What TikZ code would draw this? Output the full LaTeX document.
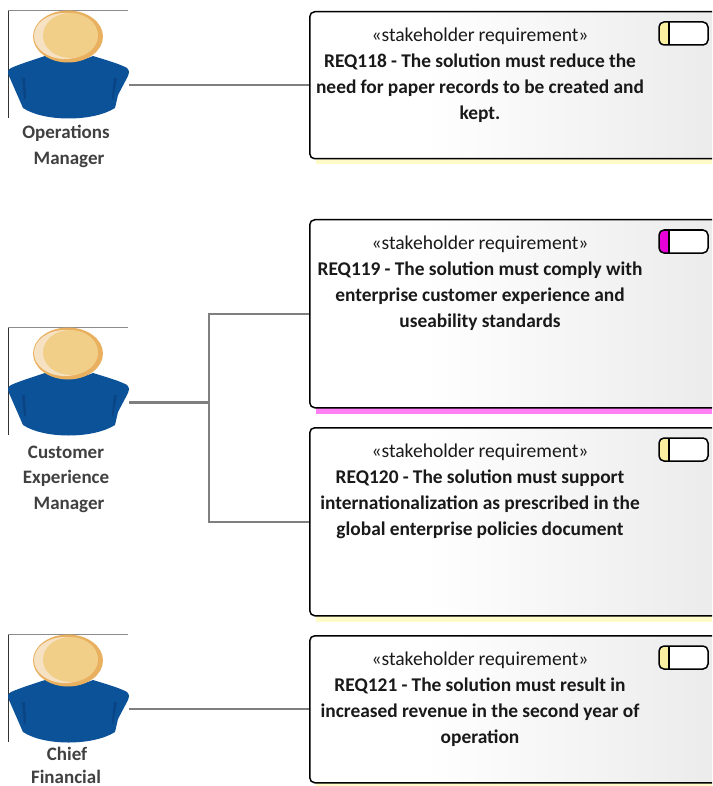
\documentclass[tikz,border=0pt]{standalone}
\usepackage{fontspec}
\setmainfont{Carlito}
\definecolor{reqgray}{HTML}{DADADA}
\pgfdeclarehorizontalshading{reqfill}{100bp}{color(0bp)=(white); color(38bp)=(white); color(100bp)=(reqgray)}
\definecolor{linkgray}{HTML}{7F7F7F}
\definecolor{shadeyellow}{HTML}{FFFBC8}
\definecolor{shademag}{HTML}{FF80F5}
\definecolor{markyellow}{HTML}{FBF0A0}
\definecolor{markmag}{HTML}{E800D8}
\definecolor{labelgray}{HTML}{404040}
\definecolor{skinring}{HTML}{E8B05F}
\definecolor{skinlight}{HTML}{F6E2C2}
\definecolor{skin}{HTML}{F2CF88}
\definecolor{bodyblue}{HTML}{0B5299}
\definecolor{bodydark}{HTML}{0A4484}
\newcommand{\reqb}[1]{{\fontsize{19.4pt}{26pt}\selectfont\bfseries\spaceskip=4.2pt\relax #1}}
\newcommand{\reqs}{{\fontsize{19.6pt}{26pt}\selectfont\spaceskip=3.8pt\relax «stakeholder requirement»}}
\tikzset{
  x=1pt,y=-1pt,
  reqbox/.style={draw=black,line width=1.5pt,rounded corners=5pt,shading=reqfill,minimum width=440pt,anchor=north west,inner sep=0pt},
  reqtext/.style={align=center,font=\fontsize{19.6pt}{26pt}\selectfont,text=black!90,text width=345pt,inner sep=0pt,anchor=north},
  actorbox/.style={minimum width=121pt,minimum height=109pt,inner sep=0pt,anchor=north west},
  actorlabel/.style={align=center,text=labelgray,font=\fontsize{19pt}{26pt}\selectfont\bfseries,inner sep=0pt},
  link/.style={draw=linkgray,line width=1.7pt},
  actorfig/.pic={
    \draw[black!80,line width=1pt] (0,108) -- (0,0);
    \draw[black!45,line width=.8pt] (0,0) -- (120,0);
    \fill[bodyblue] (37,46) .. controls (50,52) and (72,52) .. (85,46)
      .. controls (98,50) and (112,54) .. (119,58)
      .. controls (122,61) and (121,64) .. (120,66)
      -- (110,85) -- (107,98)
      .. controls (85,112) and (36,112) .. (15,98)
      -- (1,66)
      .. controls (-1,62) and (0,60) .. (3,58)
      .. controls (12,54) and (25,50) .. (37,46) -- cycle;
    \fill[bodydark] (14,68) -- (17,68) -- (18,88) -- (16,90) -- cycle;
    \fill[bodydark] (105,90) -- (104,88) -- (106,68) -- (109,68) -- cycle;
    \fill[skinring] (60,26.5) ellipse [x radius=35,y radius=26];
    \fill[skinlight] (57,26) ellipse [x radius=31,y radius=23];
    \fill[skin] (62.5,25.5) ellipse [x radius=27.5,y radius=22.5];
  }
}
\newcommand{\reqmark}[2]{%
  \coordinate (#1m) at ([xshift=350pt,yshift=-11pt]#1.north west);
  \begin{scope}
    \clip[rounded corners=5pt] (#1m) rectangle ++(49,23);
    \fill[white] (#1m) rectangle ++(49,23);
    \fill[#2] (#1m) rectangle ++(10,23);
  \end{scope}
  \draw[line width=1.5pt] ([xshift=10pt]#1m) -- ++(0,23);
  \draw[line width=1.5pt,rounded corners=5pt] (#1m) rectangle ++(49,23);
}
\begin{document}
\begin{tikzpicture}
\useasboundingbox (0,0) rectangle (712,786);
\clip (0,0) rectangle (712,786);
% shadows
\fill[shadeyellow] (316,159) rectangle (712,164);
\fill[shademag] (316,408) rectangle (712,414);
\fill[shadeyellow] (316,616) rectangle (712,622);
\fill[shadeyellow] (316,783) rectangle (712,786);
% requirement boxes
\node[reqbox,minimum height=147pt] (r118) at (309,11) {};
\node[reqbox,minimum height=188pt] (r119) at (309,219) {};
\node[reqbox,minimum height=188pt] (r120) at (309,427) {};
\node[reqbox,minimum height=147pt] (r121) at (309,635) {};
\reqmark{r118}{markyellow}
\reqmark{r119}{markmag}
\reqmark{r120}{markyellow}
\reqmark{r121}{markyellow}
\node[reqtext] (t118) at (480,28) {\reqs\\\reqb{REQ118 - The solution must reduce the}\\\reqb{need for paper records to be created and}\\\reqb{kept.}};
\node[reqtext] (t119) at (480,236) {\reqs\\\reqb{REQ119 - The solution must comply with}\\\reqb{enterprise customer experience and}\\\reqb{useability standards}};
\node[reqtext] (t120) at (480,444) {\reqs\\\reqb{REQ120 - The solution must support}\\\reqb{internationalization as prescribed in the}\\\reqb{global enterprise policies document}};
\node[reqtext] (t121) at (480,652) {\reqs\\\reqb{REQ121 - The solution must result in}\\\reqb{increased revenue in the second year of}\\\reqb{operation}};
% actors
\node[actorbox] (a1) at (8,10) {};
\node[actorbox] (a2) at (8,327) {};
\node[actorbox] (a3) at (8,634) {};
\pic at (a1.north west) {actorfig};
\pic at (a2.north west) {actorfig};
\pic at (a3.north west) {actorfig};
\node[actorlabel] (l1a) at (66,133) {Operations};
\node[actorlabel] (l1b) at (69,160) {Manager};
\node[actorlabel] (l2a) at (66,452) {Customer};
\node[actorlabel] (l2b) at (66,478) {Experience};
\node[actorlabel] (l2c) at (69,505) {Manager};
\node[actorlabel] (l3a) at (67,754) {Chief};
\node[actorlabel] (l3b) at (66,777) {Financial};
% connectors
\coordinate (a2top) at (129,401.7);
\coordinate (a2bot) at (129,403.5);
\coordinate (busx) at (209,0);
\draw[link] (a1.east |- r118.west) -- (r118.west);
\draw[link] (a2top) -- (busx |- a2top) -- (busx |- r119.west) -- (r119.west);
\draw[link] (a2bot) -- (busx |- a2bot) -- (busx |- r120.west) -- (r120.west);
\draw[link] (a3.east |- r121.west) -- (r121.west);
\end{tikzpicture}
\end{document}
